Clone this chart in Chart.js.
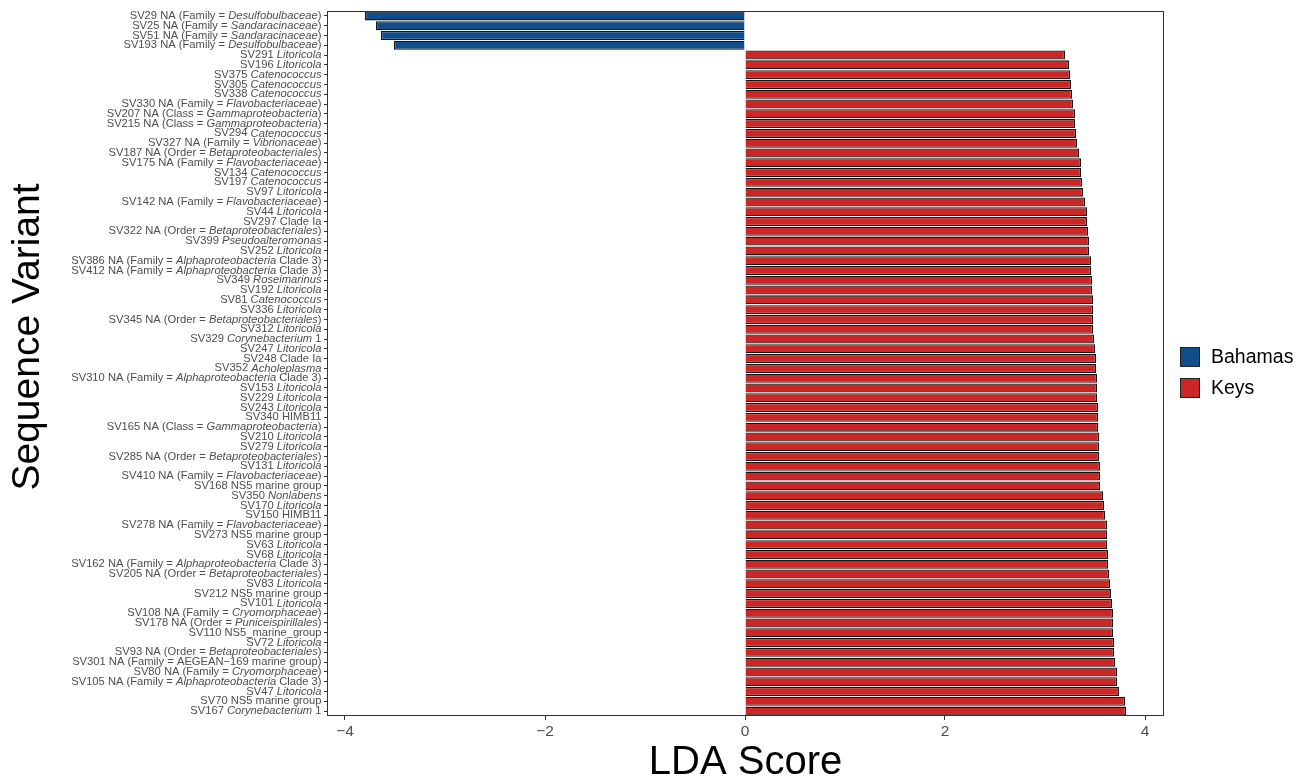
<!DOCTYPE html>
<html>
<head>
<meta charset="utf-8">
<script src="https://cdn.jsdelivr.net/npm/chart.js@4"></script>
<style>
  html, body { margin: 0; padding: 0; background: #fff; }
  #wrap { width: 1304px; height: 781px; }
</style>
</head>
<body>
<div id="wrap"><canvas id="myChart" width="1304" height="781"></canvas></div>
<script>
// Etiquetas de las variantes (el texto entre * va en cursiva)
const variantes = [
  "SV29 NA (Family = *Desulfobulbaceae*)",
  "SV25 NA (Family = *Sandaracinaceae*)",
  "SV51 NA (Family = *Sandaracinaceae*)",
  "SV193 NA (Family = *Desulfobulbaceae*)",
  "SV291 *Litoricola*",
  "SV196 *Litoricola*",
  "SV375 *Catenococcus*",
  "SV305 *Catenococcus*",
  "SV338 *Catenococcus*",
  "SV330 NA (Family = *Flavobacteriaceae*)",
  "SV207 NA (Class = *Gammaproteobacteria*)",
  "SV215 NA (Class = *Gammaproteobacteria*)",
  "SV294 *Catenococcus*",
  "SV327 NA (Family = *Vibrionaceae*)",
  "SV187 NA (Order = *Betaproteobacteriales*)",
  "SV175 NA (Family = *Flavobacteriaceae*)",
  "SV134 *Catenococcus*",
  "SV197 *Catenococcus*",
  "SV97 *Litoricola*",
  "SV142 NA (Family = *Flavobacteriaceae*)",
  "SV44 *Litoricola*",
  "SV297 Clade Ia",
  "SV322 NA (Order = *Betaproteobacteriales*)",
  "SV399 *Pseudoalteromonas*",
  "SV252 *Litoricola*",
  "SV386 NA (Family = *Alphaproteobacteria* Clade 3)",
  "SV412 NA (Family = *Alphaproteobacteria* Clade 3)",
  "SV349 *Roseimarinus*",
  "SV192 *Litoricola*",
  "SV81 *Catenococcus*",
  "SV336 *Litoricola*",
  "SV345 NA (Order = *Betaproteobacteriales*)",
  "SV312 *Litoricola*",
  "SV329 *Corynebacterium* 1",
  "SV247 *Litoricola*",
  "SV248 Clade Ia",
  "SV352 *Acholeplasma*",
  "SV310 NA (Family = *Alphaproteobacteria* Clade 3)",
  "SV153 *Litoricola*",
  "SV229 *Litoricola*",
  "SV243 *Litoricola*",
  "SV340 HIMB11",
  "SV165 NA (Class = *Gammaproteobacteria*)",
  "SV210 *Litoricola*",
  "SV279 *Litoricola*",
  "SV285 NA (Order = *Betaproteobacteriales*)",
  "SV131 *Litoricola*",
  "SV410 NA (Family = *Flavobacteriaceae*)",
  "SV168 NS5 marine group",
  "SV350 *Nonlabens*",
  "SV170 *Litoricola*",
  "SV150 HIMB11",
  "SV278 NA (Family = *Flavobacteriaceae*)",
  "SV273 NS5 marine group",
  "SV63 *Litoricola*",
  "SV68 *Litoricola*",
  "SV162 NA (Family = *Alphaproteobacteria* Clade 3)",
  "SV205 NA (Order = *Betaproteobacteriales*)",
  "SV83 *Litoricola*",
  "SV212 NS5 marine group",
  "SV101 *Litoricola*",
  "SV108 NA (Family = *Cryomorphaceae*)",
  "SV178 NA (Order = *Puniceispirillales*)",
  "SV110 NS5_marine_group",
  "SV72 *Litoricola*",
  "SV93 NA (Order = *Betaproteobacteriales*)",
  "SV301 NA (Family = AEGEAN\u2212169 marine group)",
  "SV80 NA (Family = *Cryomorphaceae*)",
  "SV105 NA (Family = *Alphaproteobacteria* Clade 3)",
  "SV47 *Litoricola*",
  "SV70 NS5 marine group",
  "SV167 *Corynebacterium* 1"
];

// Valores LDA (negativos = Bahamas, positivos = Keys)
const ldaBahamas = [-3.80, -3.69, -3.64, -3.51];
const ldaKeys = [
  3.20, 3.24, 3.25, 3.26, 3.27, 3.28, 3.30, 3.30, 3.31, 3.32,
  3.34, 3.36, 3.36, 3.37, 3.38, 3.40, 3.42, 3.42, 3.43, 3.44,
  3.44, 3.46, 3.46, 3.47, 3.47, 3.48, 3.48, 3.48, 3.48, 3.49,
  3.50, 3.51, 3.51, 3.52, 3.52, 3.52, 3.53, 3.53, 3.53, 3.54,
  3.54, 3.54, 3.55, 3.55, 3.55, 3.58, 3.59, 3.60, 3.62, 3.62,
  3.62, 3.63, 3.63, 3.64, 3.65, 3.66, 3.67, 3.68, 3.68, 3.68,
  3.69, 3.69, 3.70, 3.72, 3.72, 3.74, 3.80, 3.81
];

const grupos = ["Bahamas", "Keys"];
const coloresGrupo = ["#104E8B", "#CD2626"];
const ticksX = [-4, -2, 0, 2, 4];
const tituloY = "Sequence Variant";

const fuente = "'Liberation Sans', Arial, Helvetica, sans-serif";

// Cada serie ocupa solo sus filas (null en las demás)
const datosBahamas = variantes.map((v, i) => (i < ldaBahamas.length ? ldaBahamas[i] : null));
const datosKeys = variantes.map((v, i) => (i >= ldaBahamas.length ? ldaKeys[i - ldaBahamas.length] : null));

// Plugin: marco del panel, etiquetas del eje Y con cursiva, título Y y leyenda
const extras = {
  id: "extras",
  afterDatasetsDraw(chart) {
    const { ctx, chartArea } = chart;
    ctx.save();
    ctx.strokeStyle = "#333333";
    ctx.lineWidth = 1;
    ctx.strokeRect(chartArea.left + 0.5, chartArea.top + 0.5,
      chartArea.right - chartArea.left - 1, chartArea.bottom - chartArea.top - 1);
    ctx.restore();
  },
  afterDraw(chart) {
    const { ctx, chartArea, scales } = chart;
    const yScale = scales.y;
    ctx.save();
    ctx.fillStyle = "#4D4D4D";
    ctx.textBaseline = "middle";
    ctx.textAlign = "left";
    const derecha = chartArea.left - 5.5;
    variantes.forEach((etiqueta, i) => {
      const y = yScale.getPixelForValue(i);
      const partes = etiqueta.split("*");
      let ancho = 0;
      partes.forEach((p, k) => {
        ctx.font = (k % 2 ? "italic " : "") + "11.2px " + fuente;
        ancho += ctx.measureText(p).width;
      });
      let x = derecha - ancho;
      partes.forEach((p, k) => {
        ctx.font = (k % 2 ? "italic " : "") + "11.2px " + fuente;
        ctx.fillText(p, x, y);
        x += ctx.measureText(p).width;
      });
    });

    // Título del eje Y
    ctx.save();
    ctx.translate(28, 337);
    ctx.rotate(-Math.PI / 2);
    ctx.fillStyle = "#000";
    ctx.font = "39px " + fuente;
    ctx.textAlign = "center";
    ctx.textBaseline = "middle";
    ctx.fillText(tituloY, 0, 0);
    ctx.restore();

    // Leyenda
    const lx = chartArea.right + 16;
    const ly = [347, 378];
    grupos.forEach((g, k) => {
      ctx.fillStyle = coloresGrupo[k];
      ctx.fillRect(lx, ly[k], 20, 20);
      ctx.strokeStyle = "#222";
      ctx.lineWidth = 1;
      ctx.strokeRect(lx + 0.5, ly[k] + 0.5, 19, 19);
      ctx.fillStyle = "#000";
      ctx.font = "19.5px " + fuente;
      ctx.textBaseline = "middle";
      ctx.fillText(g, lx + 31, ly[k] + 10.5);
    });
    ctx.restore();
  }
};

const ctx = document.getElementById("myChart");

new Chart(ctx, {
  type: "bar",
  data: {
    labels: variantes,
    datasets: [
      {
        label: grupos[0],
        data: datosBahamas,
        backgroundColor: coloresGrupo[0],
        borderColor: "#141414",
        borderWidth: 1.3,
        grouped: false,
        barPercentage: 0.92,
        categoryPercentage: 1.0,
      },
      {
        label: grupos[1],
        data: datosKeys,
        backgroundColor: coloresGrupo[1],
        borderColor: "#141414",
        borderWidth: 1.3,
        grouped: false,
        barPercentage: 0.92,
        categoryPercentage: 1.0,
      },
    ],
  },
  options: {
    indexAxis: "y",
    responsive: false,
    animation: false,
    devicePixelRatio: 1,
    layout: { padding: { top: 11, right: 140, left: 0, bottom: 0 } },
    plugins: {
      legend: { display: false },
      tooltip: { enabled: false },
    },
    scales: {
      x: {
        type: "linear",
        min: -4.18,
        max: 4.19,
        afterBuildTicks: (scale) => {
          scale.ticks = ticksX.map((v) => ({ value: v }));
        },
        afterFit: (scale) => {
          scale.height = 65;
        },
        grid: {
          drawOnChartArea: false,
          drawTicks: true,
          tickLength: 4,
          color: "#333333",
        },
        border: { display: false },
        ticks: {
          color: "#4D4D4D",
          font: { family: fuente, size: 15.5 },
          padding: 2,
          maxRotation: 0,
          callback: (v) => String(v).replace("-", "\u2212"),
        },
        title: {
          display: true,
          text: "LDA Score",
          color: "#000",
          font: { family: fuente, size: 40, lineHeight: 0.9 },
          padding: { top: 0, bottom: 0 },
        },
      },
      y: {
        type: "category",
        afterFit: (scale) => {
          scale.width = 327;
        },
        grid: {
          drawOnChartArea: false,
          drawTicks: true,
          tickLength: 3,
          offset: false,
          color: "#333333",
        },
        border: { display: false },
        ticks: {
          callback: () => "",
          autoSkip: false,
        },
        title: { display: false },
      },
    },
  },
  plugins: [extras],
});
</script>
</body>
</html>
